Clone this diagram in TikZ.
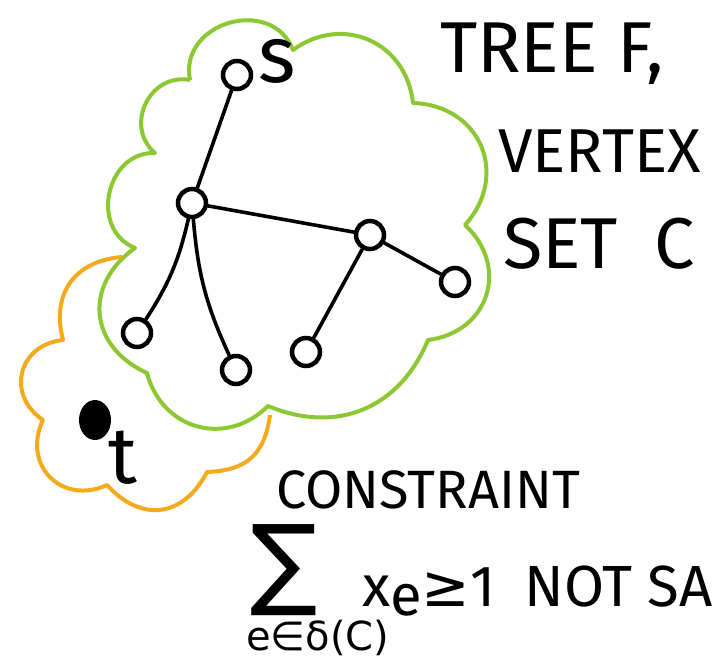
\documentclass[tikz,border=0pt]{standalone}
\usepackage{fontspec}
\setmainfont{Fira Sans}
\newfontfamily\symfont{DejaVu Sans}
\usepackage{xcolor}
\usepackage{tikz}
\usetikzlibrary{shapes.geometric}
\definecolor{cloudgreen}{RGB}{140,200,50}
\definecolor{cloudorange}{RGB}{245,170,30}

\begin{document}
\begin{tikzpicture}[x=1pt, y=-1pt,
    vert/.style={circle, draw, line width=4.5pt, minimum size=28pt, inner sep=0pt},
    sink/.style={ellipse, fill, minimum width=32pt, minimum height=40pt, inner sep=0pt},
    edge/.style={line width=3.6pt, line cap=round},
    big/.style={font=\fontsize{64}{64}\selectfont, anchor=base west, inner sep=0pt}]
    \useasboundingbox (0,0) rectangle (717,664);
    % vertex set C (green) and the part with t (orange)
    \draw[cloudgreen, line width=4pt, line join=round]
      (190,80) to[bend left=85, looseness=1.4] (293,50) to[bend left=60, looseness=1.2] (413,103)
      to[bend left=65, looseness=1.3] (465,225) to[bend left=65, looseness=1.3] (428,340)
      to[bend left=45, looseness=1.1] (268,406) to[bend left=60, looseness=1.2] (147,373)
      to[bend left=60, looseness=1.3] (135,248) to[bend left=80, looseness=1.3] (155,153)
      to[bend left=75, looseness=1.3] (190,80);
    \draw[cloudorange, line width=4pt, line join=round]
      (122,257) to[bend right=50, looseness=1.2] (63,340) to[bend right=70, looseness=1.4] (43,420)
      to[bend right=70, looseness=1.4] (107,485) to[bend right=55, looseness=1.3] (207,472)
      to[bend right=40, looseness=1.2] (270,415);
    % tree F
    \node[vert] (s) at (237,75) {};
    \node[vert] (a) at (192,203) {};
    \node[vert] (b) at (370,235) {};
    \node[vert] (l1) at (137,333) {};
    \node[vert] (l2) at (236,370) {};
    \node[vert] (l3) at (306,352) {};
    \node[vert] (l4) at (455,282) {};
    \node[sink] (t) at (95,420) {};
    \node[big, font=\fontsize{80}{80}\selectfont] (slab) at (258,82) {s};
    \node[big, font=\fontsize{80}{80}\selectfont] (tlab) at (108,483) {t};
    \draw[edge] (s) -- (a);
    \draw[edge] (a) -- (b);
    \draw[edge] (a) to[bend left=10] (l1);
    \draw[edge] (a) to[bend right=10] (l2);
    \draw[edge] (b) -- (l3);
    \draw[edge] (b) -- (l4);
    % text
    \node[big, font=\fontsize{72}{72}\selectfont] (tree) at (440,72) {TREE F,};
    \node[big, font=\fontsize{62}{62}\selectfont] (vertex) at (498,172) {VERTEX};
    \node[big, font=\fontsize{72}{72}\selectfont] (setc) at (503,268) {SET\enspace C};
    \node[big, font=\fontsize{54}{54}\selectfont] (constr) at (276,508) {CONSTRAINT};
    \node[big, font=\symfont\fontsize{100}{100}\selectfont] (sum) at (250,596) {∑};
    \node[big, font=\symfont\fontsize{40}{40}\selectfont] (range) at (246,650) {e∈δ(C)};
    \node[big, font=\fontsize{58}{58}\selectfont] (cond) at (362,606) {x\raisebox{-0.3ex}{e}{\symfont≥}1\enspace NOT SA};
\end{tikzpicture}
\end{document}
